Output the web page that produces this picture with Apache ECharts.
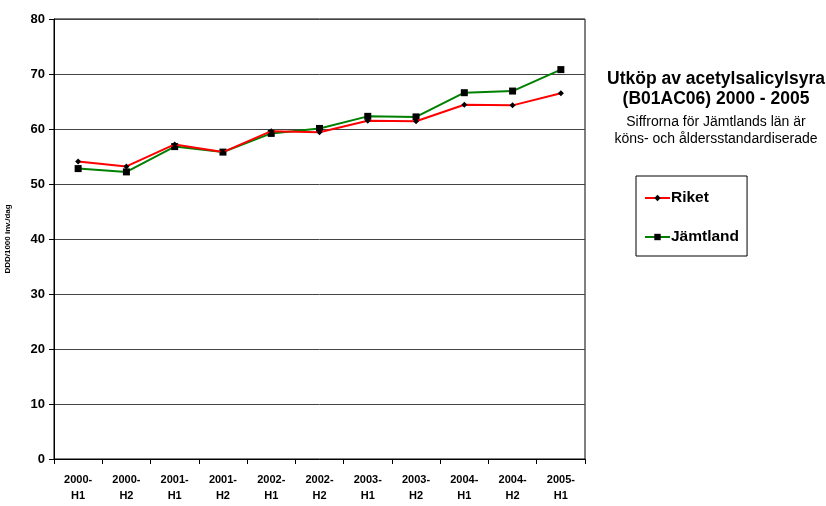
<!DOCTYPE html>
<html><head><meta charset="utf-8">
<script src="https://cdn.jsdelivr.net/npm/echarts@6/dist/echarts.min.js"></script>
<style>html,body{margin:0;padding:0;background:#fff}#c{width:826px;height:506px}</style>
</head><body><div id="c"></div>
<script>
const categories = ['2000-\nH1','2000-\nH2','2001-\nH1','2001-\nH2','2002-\nH1','2002-\nH2','2003-\nH1','2003-\nH2','2004-\nH1','2004-\nH2','2005-\nH1'];
const riket = [54.1, 53.2, 57.2, 55.8, 59.6, 59.4, 61.5, 61.4, 64.4, 64.3, 66.5];
const jamtland = [52.8, 52.2, 56.8, 55.8, 59.2, 60.1, 62.3, 62.2, 66.6, 66.9, 70.8];
const titleText = 'Utköp av acetylsalicylsyra\n(B01AC06) 2000 - 2005';
const subText = 'Siffrorna för Jämtlands län är\nköns- och åldersstandardiserade';
const yName = 'DDD/1000 inv./dag';

const F = 'Arial, "Liberation Sans", sans-serif';
const chart = echarts.init(document.getElementById('c'), null, {renderer: 'canvas'});
chart.setOption({
  animation: false,
  backgroundColor: '#fff',
  title: {
    text: titleText, subtext: subText,
    left: 711, top: 64, textAlign: 'center', itemGap: 5,
    textStyle: {fontFamily: F, fontWeight: 'bold', fontSize: 17.5, color: '#000', lineHeight: 20},
    subtextStyle: {fontFamily: F, fontSize: 14, color: '#000', lineHeight: 17}
  },
  legend: {
    orient: 'vertical', left: 636, top: 176,
    padding: [14, 8, 11, 8], itemGap: 23, itemWidth: 25, itemHeight: 8,
    borderColor: '#000', borderWidth: 1,
    textStyle: {fontFamily: F, fontWeight: 'bold', fontSize: 15.5, color: '#000', padding: [0,0,0,-4]},
    data: ['Riket', 'Jämtland']
  },
  grid: {left: 54, right: 241, top: 19, bottom: 47, outerBoundsMode: 'none', containLabel: false,
    show: true, borderColor: '#000', borderWidth: 1, backgroundColor: 'transparent'},
  xAxis: {
    type: 'category', data: categories, boundaryGap: true,
    axisLine: {lineStyle: {color: '#000', width: 1}},
    axisTick: {show: true, alignWithLabel: false, length: 5, lineStyle: {color: '#000'}},
    axisLabel: {fontFamily: F, fontWeight: 'bold', fontSize: 11, color: '#000', lineHeight: 16, margin: 13, interval: 0}
  },
  yAxis: {
    type: 'value', min: 0, max: 80, interval: 10,
    name: yName, nameLocation: 'middle', nameGap: 42, nameRotate: 90,
    nameTextStyle: {fontFamily: F, fontWeight: 'bold', fontSize: 8, color: '#000'},
    axisLine: {show: true, lineStyle: {color: '#000'}},
    axisTick: {show: true, length: 5, lineStyle: {color: '#000'}},
    axisLabel: {fontFamily: F, fontWeight: 'bold', fontSize: 13, color: '#000', margin: 9},
    splitLine: {show: true, lineStyle: {color: '#444', width: 1}}
  },
  series: [
    {name: 'Riket', type: 'line', data: riket, symbol: 'diamond', symbolSize: 6,
     lineStyle: {color: '#ff0000', width: 2}, itemStyle: {color: '#000'}, z: 3},
    {name: 'Jämtland', type: 'line', data: jamtland, symbol: 'rect', symbolSize: 7,
     lineStyle: {color: '#008000', width: 2}, itemStyle: {color: '#000'}, z: 2}
  ]
});
</script></body></html>
